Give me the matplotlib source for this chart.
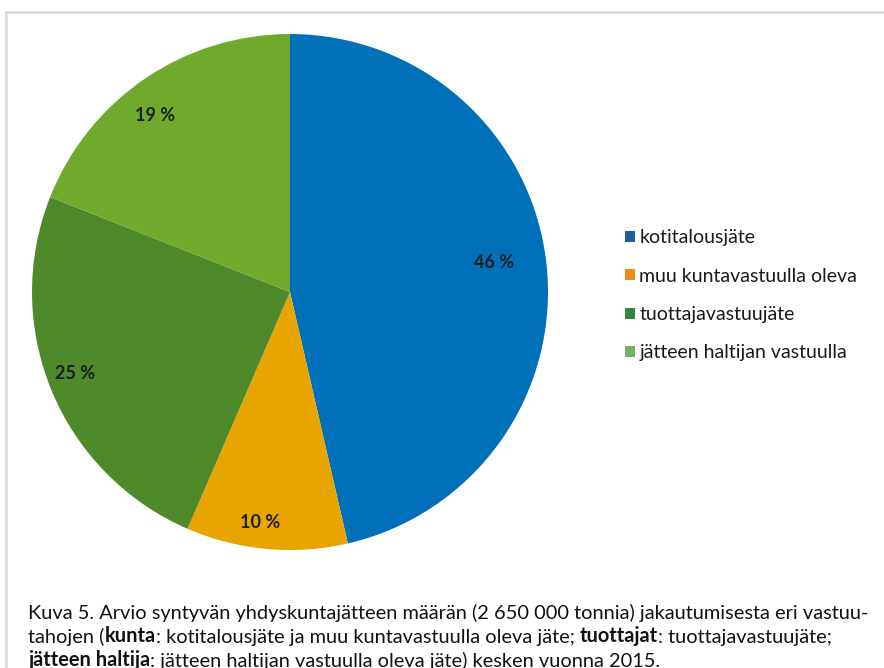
import numpy as np
import matplotlib
matplotlib.use("Agg")
import matplotlib.pyplot as plt
from matplotlib.lines import Line2D
from matplotlib.patches import Patch

# data (read from the slice boundaries, labels shown rounded)
categories = ["kotitalousjäte", "muu kuntavastuulla oleva",
              "tuottajavastuujäte", "jätteen haltijan vastuulla"]
shares = [46.4, 10.1, 24.5, 19.0]
pct_labels = ["46 %", "10 %", "25 %", "19 %"]
slice_colors = ["#0070B8", "#E8A500", "#4E8A2A", "#70AA2C"]
legend_colors = ["#1F5E9E", "#F08A1A", "#2C8A3A", "#7AAE66"]
label_dist = [0.80, 0.90, 0.89, 0.86]
label_turn = [1.8, -2.1, -1.8, 3.2]  # degrees, excel "best fit" nudges

caption = [
    [("Kuva 5. Arvio syntyvän yhdyskuntajätteen määrän (2 650 000 tonnia) jakautumisesta eri vastuu-", "normal")],
    [("tahojen (", "normal"), ("kunta", "bold"),
     (": kotitalousjäte ja muu kuntavastuulla oleva jäte; ", "normal"),
     ("tuottajat", "bold"), (": tuottajavastuujäte;", "normal")],
    [("jätteen haltija", "bold"),
     (": jätteen haltijan vastuulla oleva jäte) kesken vuonna 2015.", "normal")],
]

plt.rcParams['font.family'] = ['Lato', 'DejaVu Sans']

fig = plt.figure(figsize=(8.84, 6.68), dpi=100)
ax = fig.add_axes([0.0362, 0.1766, 0.5837, 0.7725])

wedges, _ = ax.pie(shares, colors=slice_colors, startangle=90,
                   counterclock=False, radius=1.0)
ax.set_xlim(-1, 1)
ax.set_ylim(-1, 1)
ax.set_aspect("equal")

for w, lab, d, t in zip(wedges, pct_labels, label_dist, label_turn):
    ang = np.deg2rad((w.theta1 + w.theta2) / 2 + t)
    ax.text(d * np.cos(ang), d * np.sin(ang), lab, ha="center",
            va="center", fontsize=13, fontweight="bold", color="#1e1e1e")

handles = [Patch(facecolor=c, edgecolor="none") for c in legend_colors]
fig.legend(handles, categories, loc="upper left",
           bbox_to_anchor=(0.687, 0.683), frameon=False, fontsize=14,
           handlelength=0.5, handleheight=0.5, handletextpad=0.25,
           labelspacing=1.1, labelcolor="#1a1a1a")

# frame
fig.add_artist(Line2D([0.007, 1.0], [0.982, 0.982], color="#D8D8D8", lw=1.8))
fig.add_artist(Line2D([0.007, 0.007], [0.0, 0.982], color="#D8D8D8", lw=1.8))

# caption with bold parts
y = 0.0685
for line in caption:
    prev = None
    for txt, wt in line:
        if prev is None:
            prev = fig.text(0.032, y, txt, fontsize=14.4, fontweight=wt,
                            color="#111111", va="bottom")
        else:
            prev = ax.annotate(txt, xy=(1, 0), xycoords=prev,
                               fontsize=14.4, fontweight=wt,
                               color="#111111", va="bottom",
                               annotation_clip=False)
    y -= 0.0355

fig.savefig("out.png", dpi=100)
